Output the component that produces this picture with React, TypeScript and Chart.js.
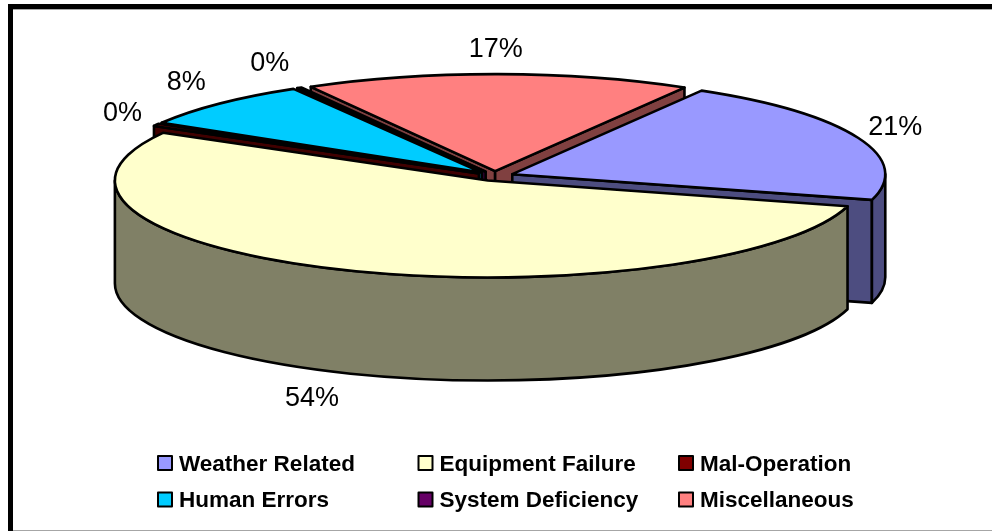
import React, { useEffect, useRef } from "react";
import Chart from "chart.js/auto";

const categories = ["Weather Related", "Equipment Failure", "Mal-Operation", "Human Errors", "System Deficiency", "Miscellaneous"];
const shares = [20.8, 53.9, 0.4, 8.0, 0.2, 16.7];
const topColors = ["#9999FF", "#FFFFCC", "#800000", "#00CCFF", "#660066", "#FF8080"];
const sideColors = ["#4D4D80", "#808066", "#400000", "#006680", "#330033", "#804040"];
const legendColumns = [158, 418.5, 679];
const legendRows = [463.5, 500];
const labelSpreadX = [1.17, 1.28, 1.155, 1.175, 1.204, 1.0];
const labelSpreadY = [1.3, 1.344, 1.26, 1.336, 1.33, 1.29];

const CX = 495, CY = 176, RX = 373, RY = 97, DEPTH = 103, EXPLODE = 0.05;
const LABEL_CX = 493, LABEL_CY = 175, LABEL_RX = 371, LABEL_RY = 97;
const SANS = "'Liberation Sans', Arial, sans-serif";
const STROKE = 2.6;

function geometry(chart: any) {
  const arcs = chart.getDatasetMeta(0).data as any[];
  return arcs.map((el, i) => {
    const a = el.startAngle, b = el.endAngle;
    const mid = (a + b) / 2;
    return { i, a, b, mid, ax: CX + Math.cos(mid) * EXPLODE * RX, ay: CY + Math.sin(mid) * EXPLODE * RY, R: el.outerRadius, x: el.x, y: el.y };
  });
}

const pie3d = {
  id: "pie3d",
  beforeDraw(chart: any) {
    const { ctx, width, height } = chart;
    ctx.save();
    ctx.fillStyle = "#FFFFFF";
    ctx.fillRect(0, 0, width, height);
    ctx.fillStyle = "#000000";
    ctx.fillRect(8, 4, width - 8, 5);
    ctx.fillRect(8, 4, 5, height - 4);
    ctx.fillStyle = "#A6A6A6";
    ctx.fillRect(13, 9, width - 13, 1);
    ctx.fillRect(13, 530, width - 13, 1);
    ctx.restore();
  },
  beforeDatasetsDraw(chart: any) {
    const { ctx } = chart;
    const g = geometry(chart);
    const order = [...g].sort((p, q) => Math.sin(p.mid) - Math.sin(q.mid));
    ctx.save();
    ctx.lineWidth = STROKE;
    ctx.strokeStyle = "#000000";
    ctx.lineJoin = "round";
    for (const s of order) {
      ctx.fillStyle = sideColors[s.i];
      const face = (t: number) => {
        const px = s.ax + Math.cos(t) * RX, py = s.ay + Math.sin(t) * RY;
        ctx.beginPath();
        ctx.moveTo(s.ax, s.ay);
        ctx.lineTo(px, py);
        ctx.lineTo(px, py + DEPTH);
        ctx.lineTo(s.ax, s.ay + DEPTH);
        ctx.closePath();
        ctx.fill();
        ctx.stroke();
      };
      if (Math.cos(s.a) < 0) face(s.a);
      if (Math.cos(s.b) > 0) face(s.b);
      // outer wall on the front half of the ellipse
      for (const k of [0, 2 * Math.PI]) {
        const from = Math.max(s.a, k), to = Math.min(s.b, k + Math.PI);
        if (to > from) {
          ctx.beginPath();
          ctx.ellipse(s.ax, s.ay, RX, RY, 0, from, to);
          ctx.ellipse(s.ax, s.ay + DEPTH, RX, RY, 0, to, from, true);
          ctx.closePath();
          ctx.fill();
          ctx.stroke();
        }
      }
    }
    ctx.restore();
    // each arc is still painted by the library, only moved out along its own mid-angle
    chart.getDatasetMeta(0).data.forEach((el: any) => {
      if (!Object.prototype.hasOwnProperty.call(el, "draw")) {
        const base = el.draw;
        el.draw = function (c: CanvasRenderingContext2D, area: any) {
          const m = (this.startAngle + this.endAngle) / 2;
          c.save();
          c.translate(Math.cos(m) * EXPLODE * this.outerRadius, Math.sin(m) * EXPLODE * this.outerRadius);
          base.call(this, c, area);
          c.restore();
        };
      }
    });
    const first = g[0];
    ctx.save();
    ctx.translate(CX, CY);
    ctx.scale(RX / first.R, RY / first.R);
    ctx.translate(-first.x, -first.y);
  },
  afterDatasetsDraw(chart: any) {
    const { ctx } = chart;
    ctx.restore();
    const g = geometry(chart);
    ctx.save();
    ctx.lineWidth = STROKE;
    ctx.strokeStyle = "#000000";
    ctx.lineJoin = "round";
    for (const s of g) {
      ctx.beginPath();
      ctx.moveTo(s.ax, s.ay);
      ctx.ellipse(s.ax, s.ay, RX, RY, 0, s.a, s.b);
      ctx.closePath();
      ctx.stroke();
    }
    // percentage labels
    ctx.fillStyle = "#000000";
    ctx.font = `27px ${SANS}`;
    ctx.textAlign = "center";
    ctx.textBaseline = "middle";
    for (const s of g) {
      const lx = LABEL_CX + Math.cos(s.mid) * LABEL_RX * labelSpreadX[s.i];
      const below = Math.sin(s.mid) > 0 ? DEPTH : 0;
      const ly = LABEL_CY + Math.sin(s.mid) * LABEL_RY * labelSpreadY[s.i] + below;
      ctx.fillText(`${Math.round(shares[s.i])}%`, lx, ly);
    }
    // legend
    ctx.font = `bold 22.5px ${SANS}`;
    ctx.textAlign = "left";
    ctx.lineWidth = 2;
    categories.forEach((name, i) => {
      const x = legendColumns[i % 3], y = legendRows[Math.floor(i / 3)];
      ctx.fillStyle = topColors[i];
      ctx.fillRect(x, y - 7.5, 14, 14);
      ctx.strokeRect(x, y - 7.5, 14, 14);
      ctx.fillStyle = "#000000";
      ctx.fillText(name, x + 21, y + 1);
    });
    ctx.restore();
  },
};

export default function App() {
  const ref = useRef<HTMLCanvasElement>(null);
  useEffect(() => {
    document.body.style.margin = "0";
    const chart = new Chart(ref.current!, {
      type: "pie",
      data: {
        labels: categories,
        datasets: [{ data: shares, backgroundColor: topColors, borderWidth: 0, clip: false } as any],
      },
      options: {
        responsive: false,
        animation: false,
        rotation: 30.5,
        events: [],
        plugins: { legend: { display: false }, tooltip: { enabled: false } },
      },
      plugins: [pie3d],
    } as any);
    return () => chart.destroy();
  }, []);
  return <canvas ref={ref} width={992} height={531} style={{ display: "block" }} />;
}
